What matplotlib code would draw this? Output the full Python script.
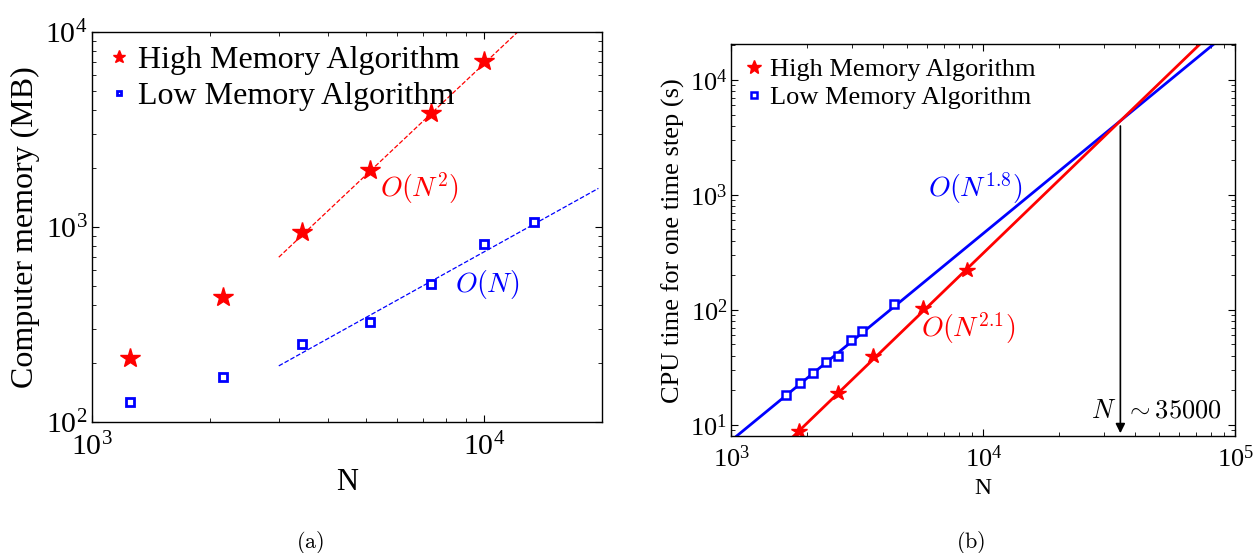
import matplotlib
matplotlib.use("Agg")
import matplotlib.pyplot as plt

plt.rcParams['font.family'] = ['Liberation Serif', 'DejaVu Serif']

# (a) memory
mem_n = [1250, 2165, 3437, 5140, 7330, 10000]
mem_high = [213, 440, 940, 1960, 3830, 7130]
mem_n_low = [1250, 2165, 3437, 5140, 7330, 10000, 13400]
mem_low = [127, 171, 250, 325, 512, 820, 1062]
fit_high_n = [3000, 12200]
fit_high_mem = [700, 10000]
fit_low_n = [3000, 19600]
fit_low_mem = [194, 1578]

# (b) cpu time
cpu_n_high = [1858, 2656, 3655, 5770, 8590]
cpu_high = [8.87, 18.9, 39.3, 103.5, 220]
cpu_n_low = [1644, 1866, 2102, 2377, 2656, 2979, 3297, 4428]
cpu_low = [18.0, 23.0, 28.2, 35.1, 39.5, 55.2, 65.6, 112]
line_high_n = [1768, 72300]
line_high_t = [8.0, 20400]
line_low_n = [1050, 82000]
line_low_t = [8.0, 20400]
n_cross = 35000

fig = plt.figure(figsize=(12.58, 5.53), dpi=100)

def style(ax, fs, xpad, ypad):
    ax.set_xscale('log')
    ax.set_yscale('log')
    ax.tick_params(which='both', direction='in', top=True, right=True, labelsize=fs)
    ax.tick_params(axis='x', which='both', pad=xpad)
    ax.tick_params(axis='y', which='both', pad=ypad)
    ax.tick_params(which='major', length=5)
    ax.tick_params(which='minor', length=3)
    for s in ax.spines.values():
        s.set_linewidth(1.0)

# left panel
ax1 = fig.add_axes([0.0729, 0.2369, 0.4055, 0.7052])
style(ax1, 21.5, 8, 3)
ax1.plot(fit_high_n, fit_high_mem, '--', color='red', lw=0.9)
ax1.plot(fit_low_n, fit_low_mem, '--', color='blue', lw=0.9)
ax1.plot(mem_n, mem_high, linestyle='none', marker='*', ms=15, color='red',
         label='High Memory Algorithm')
ax1.plot(mem_n_low, mem_low, linestyle='none', marker='s', ms=5.5, mew=2,
         mfc='white', mec='blue', label='Low Memory Algorithm')
ax1.set_xlim(1000, 20000)
ax1.set_ylim(100, 10000)
ax1.set_xlabel('N', fontsize=22)
ax1.set_ylabel('Computer memory (MB)', fontsize=23)
ax1.xaxis.set_label_coords(0.5, -0.118)
ax1.yaxis.set_label_coords(-0.101, 0.5)
ax1.text(5440, 1585, r'$O(N^2)$', color='red', fontsize=20, math_fontfamily='cm',
         va='center', ha='left')
ax1.text(8440, 505, r'$O(N)$', color='blue', fontsize=20, math_fontfamily='cm',
         va='center', ha='left')
ax1.legend(loc='upper left', bbox_to_anchor=(0.028, 0.964), frameon=False, fontsize=23,
           markerscale=0.65, handlelength=0.8, handletextpad=0.2, borderpad=0,
           borderaxespad=0, labelspacing=0.19)

# right panel
ax2 = fig.add_axes([0.5814, 0.2116, 0.4005, 0.7083])
style(ax2, 19, 6.5, 3)
ax2.plot(line_low_n, line_low_t, '-', color='blue', lw=2)
ax2.plot(line_high_n, line_high_t, '-', color='red', lw=2)
ax2.plot(cpu_n_high, cpu_high, linestyle='none', marker='*', ms=11.5, color='red',
         label='High Memory Algorithm')
ax2.plot(cpu_n_low, cpu_low, linestyle='none', marker='s', ms=5.5, mew=1.8,
         mfc='white', mec='blue', label='Low Memory Algorithm')
ax2.set_xlim(1000, 100000)
ax2.set_ylim(8.0, 20400)
ax2.set_xlabel('N', fontsize=17)
ax2.set_ylabel('CPU time for one time step (s)', fontsize=19)
ax2.xaxis.set_label_coords(0.5, -0.107)
ax2.yaxis.set_label_coords(-0.092, 0.5)
ax2.annotate('', xy=(n_cross, 8.0), xytext=(n_cross, 4200),
             arrowprops=dict(arrowstyle='-|>', color='black', lw=1.2, mutation_scale=14))
ax2.text(n_cross * 0.763, 13.2, r'$N\;\;\sim 35000$', fontsize=19, math_fontfamily='cm',
         va='center', ha='left')
ax2.text(6010, 1150, r'$O(N^{1.8})$', color='blue', fontsize=20, math_fontfamily='cm',
         va='center', ha='left')
ax2.text(5640, 69.4, r'$O(N^{2.1})$', color='red', fontsize=20, math_fontfamily='cm',
         va='center', ha='left')
ax2.legend(loc='upper left', bbox_to_anchor=(0.0244, 0.965), frameon=False, fontsize=19,
           markerscale=0.87, handlelength=0.8, handletextpad=0.2, borderpad=0,
           borderaxespad=0, labelspacing=0.16)

fig.text(310 / 1258, 1 - 542 / 553, r'$\mathrm{(a)}$', fontsize=16, math_fontfamily='cm',
         ha='center', va='center')
fig.text(971 / 1258, 1 - 542 / 553, r'$\mathrm{(b)}$', fontsize=16, math_fontfamily='cm',
         ha='center', va='center')

fig.savefig('out.png', dpi=100)
